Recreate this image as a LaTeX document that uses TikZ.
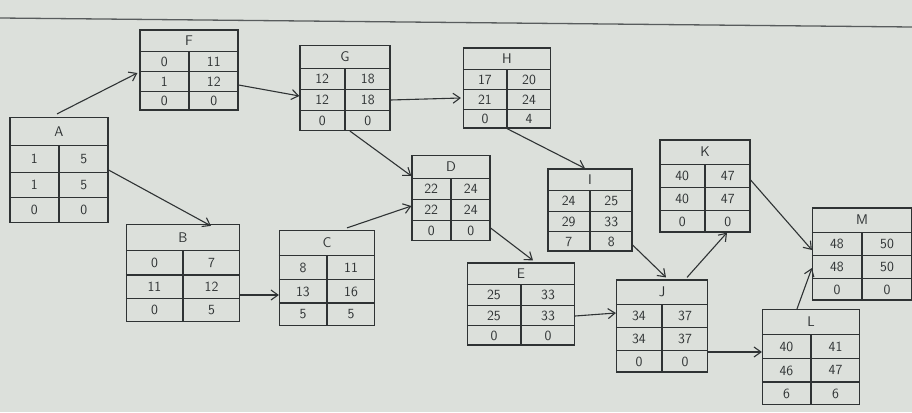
\documentclass[tikz,border=0pt]{standalone}
\usetikzlibrary{calc,arrows.meta}
\definecolor{paper}{HTML}{DCE0DB}
\definecolor{ink}{HTML}{2F3334}
\tikzset{
  actbox/.style={draw=ink, line width=1.2pt, rectangle, inner sep=0pt},
  boxrule/.style={draw=ink, line width=1.1pt},
  cell/.style={text=ink, font=\sffamily\fontsize{14}{14}\selectfont, inner sep=0pt},
  link/.style={draw=ink, line width=1.1pt, -{Straight Barb[length=7pt,width=10pt]}},
}
% activity box: name, centre, width, height, title
\newcommand\actbox[5]{%
  \node[actbox, minimum width=#3pt, minimum height=#4pt] (#1) at (#2) {};
  \foreach \k in {0.27,0.52,0.76}{%
    \draw[boxrule] ($(#1.north west)!\k!(#1.south west)$) -- ($(#1.north east)!\k!(#1.south east)$);}
  \draw[boxrule] ($(#1.north)!0.27!(#1.south)$) -- (#1.south);
  \node[cell] (#1-t) at ($(#1.north)!0.135!(#1.south)$) {#5};
}
% the six figures of a box: ES EF / LS LF / slack
\newcommand\cellrow[4]{%
  \node[cell] (#1-#2l) at ($($(#1.north west)!#2!(#1.south west)$)!0.25!($(#1.north east)!#2!(#1.south east)$)$) {#3};
  \node[cell] (#1-#2r) at ($($(#1.north west)!#2!(#1.south west)$)!0.75!($(#1.north east)!#2!(#1.south east)$)$) {#4};
}
\newcommand\cells[7]{%
  \cellrow{#1}{0.395}{#2}{#3}%
  \cellrow{#1}{0.64}{#4}{#5}%
  \cellrow{#1}{0.88}{#6}{#7}%
}
\begin{document}
\begin{tikzpicture}[x=1pt,y=-1pt]
  \fill[paper] (0,0) rectangle (912,412);
  \useasboundingbox (0,0) rectangle (912,412);
  % edge of the sheet
  \coordinate (edgeL) at (0,18);
  \coordinate (edgeR) at (912,27);
  \draw[ink!80, line width=1.3pt] (edgeL) -- (edgeR);

  \actbox{A}{59,170}{98}{105}{A}   \cells{A}{1}{5}{1}{5}{0}{0}
  \actbox{F}{189,70}{98}{80}{F}    \cells{F}{0}{11}{1}{12}{0}{0}
  \actbox{G}{345,88}{90}{85}{G}    \cells{G}{12}{18}{12}{18}{0}{0}
  \actbox{H}{507,88}{87}{80}{H}    \cells{H}{17}{20}{21}{24}{0}{4}
  \actbox{D}{451,198}{78}{85}{D}   \cells{D}{22}{24}{22}{24}{0}{0}
  \actbox{I}{590,210}{84}{82}{I}   \cells{I}{24}{25}{29}{33}{7}{8}
  \actbox{K}{705,186}{90}{92}{K}   \cells{K}{40}{47}{40}{47}{0}{0}
  \actbox{B}{183,273}{113}{97}{B}  \cells{B}{0}{7}{11}{12}{0}{5}
  \actbox{C}{327,278}{95}{95}{C}   \cells{C}{8}{11}{13}{16}{5}{5}
  \actbox{E}{521,304}{107}{82}{E}  \cells{E}{25}{33}{25}{33}{0}{0}
  \actbox{J}{662,326}{91}{92}{J}   \cells{J}{34}{37}{34}{37}{0}{0}
  \actbox{L}{811,357}{97}{95}{L}   \cells{L}{40}{41}{46}{47}{6}{6}
  \actbox{M}{862,254}{99}{92}{M}   \cells{M}{48}{50}{48}{50}{0}{0}

  % precedence links
  \draw[link] ($(A.north)+(-2,-3)$) -- ($(F.west)+(-2,3)$);
  \draw[link] (A.east) -- ($(B.north)+(28,2)$);
  \draw[link] ($(F.east)+(0,15)$) -- ($(G.west)+(0,8)$);
  \draw[link] ($(G.east)+(0,12)$) -- ($(H.west)+(-2,10)$);
  \draw[link] ($(G.south)+(5,0)$) -- ($(D.west)+(0,-22)$);
  \draw[link] ($(B.east)+(0,22)$) -- ($(C.west)+(0,17)$);
  \draw[link] ($(C.north)+(20,-2)$) -- ($(D.west)+(0,8)$);
  \draw[link] (H.south) -- ($(I.north)+(-5,0)$);
  \draw[link] ($(D.east)+(0,30)$) -- ($(E.north)+(12,-2)$);
  \draw[link] ($(I.east)+(0,35)$) -- ($(J.north)+(4,-2)$);
  \draw[link] ($(E.east)+(0,12)$) -- ($(J.west)+(0,-13)$);
  \draw[link] ($(J.north)+(25,-2)$) -- ($(K.south)+(22,0)$);
  \draw[link] ($(J.east)+(0,26)$) -- ($(L.west)+(0,-5)$);
  \draw[link] ($(K.east)+(0,-6)$) -- ($(M.west)+(0,-4)$);
  \draw[link] ($(L.north)+(-14,0)$) -- ($(M.west)+(0,14)$);
\end{tikzpicture}
\end{document}
